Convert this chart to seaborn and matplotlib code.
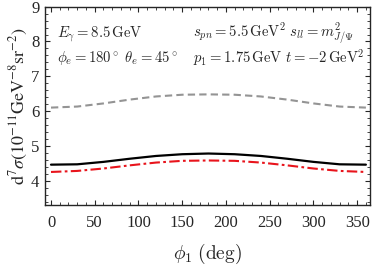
"""
Cross section vs phi_1, recreated with seaborn/matplotlib
"""

import matplotlib
matplotlib.use("Agg")
import matplotlib.pyplot as plt
import seaborn as sns
import pandas as pd
from matplotlib.ticker import MultipleLocator

# Data
phi1 = [0, 30, 60, 90, 120, 150, 180, 210, 240, 270, 300, 330, 360]
sigma_solid = [4.46, 4.47, 4.54, 4.63, 4.71, 4.76, 4.78, 4.76, 4.71, 4.63, 4.54, 4.47, 4.46]
sigma_dashdot = [4.25, 4.28, 4.35, 4.44, 4.52, 4.57, 4.58, 4.57, 4.52, 4.44, 4.35, 4.28, 4.25]
sigma_dashed = [6.10, 6.13, 6.22, 6.33, 6.42, 6.47, 6.48, 6.47, 6.42, 6.33, 6.22, 6.13, 6.10]

df = pd.DataFrame({
    "phi1": phi1 * 3,
    "sigma": sigma_dashed + sigma_solid + sigma_dashdot,
    "curve": ["dashed"] * 13 + ["solid"] * 13 + ["dashdot"] * 13,
})

sns.set_style("ticks")
plt.rcParams["font.family"] = ["Liberation Serif", "DejaVu Serif"]
plt.rcParams["mathtext.fontset"] = "cm"

fig, ax = plt.subplots(figsize=(3.74, 2.68), dpi=100)

styles = {
    "dashed": dict(color="#949494", ls=(0, (3.5, 2)), lw=1.5),
    "solid": dict(color="black", ls="-", lw=1.6),
    "dashdot": dict(color="#e8141c", ls=(0, (5, 1.6, 1.3, 1.6)), lw=1.5),
}
for name, st in styles.items():
    sub = df[df["curve"] == name]
    sns.lineplot(data=sub, x="phi1", y="sigma", ax=ax, **st)

ax.set_xlim(-7, 365)
ax.set_ylim(3.3, 9)
ax.xaxis.set_major_locator(MultipleLocator(50))
ax.xaxis.set_minor_locator(MultipleLocator(10))
ax.yaxis.set_major_locator(MultipleLocator(1))
ax.yaxis.set_minor_locator(MultipleLocator(0.2))
ax.tick_params(which="both", direction="in", top=True, right=True)
ax.tick_params(which="major", length=3.5, width=0.8, labelsize=12)
ax.tick_params(which="minor", length=2, width=0.6)
ax.tick_params(axis="x", which="major", pad=7)
ax.tick_params(axis="y", which="major", pad=4)
for sp in ax.spines.values():
    sp.set_linewidth(1.0)

ax.set_xlabel(r"$\phi_1$ $\mathrm{(deg)}$", fontsize=14, labelpad=8)
ax.set_ylabel(r"$\mathrm{d}^7\sigma(10^{-11}\mathrm{GeV}^{-8}\mathrm{sr}^{-2})$",
              fontsize=13, labelpad=1, math_fontfamily="stix")

fs = 10.6
ax.text(0.037, 0.845, r"$E_\gamma = 8.5\,\mathrm{GeV}$", transform=ax.transAxes, fontsize=fs, va="baseline")
ax.text(0.037, 0.72, r"$\phi_e = 180^\circ\ \theta_e = 45^\circ$", transform=ax.transAxes, fontsize=fs, va="baseline")
ax.text(0.455, 0.845, r"$s_{pn} = 5.5\,\mathrm{GeV}^2\ s_{ll} = m^2_{J/\Psi}$", transform=ax.transAxes, fontsize=fs, va="baseline")
ax.text(0.455, 0.72, r"$p_1 = 1.75\,\mathrm{GeV}\ t = -2\,\mathrm{GeV}^2$", transform=ax.transAxes, fontsize=fs, va="baseline")

fig.subplots_adjust(left=0.12, right=0.99, top=0.975, bottom=0.235)
fig.savefig("out.png", dpi=100)
